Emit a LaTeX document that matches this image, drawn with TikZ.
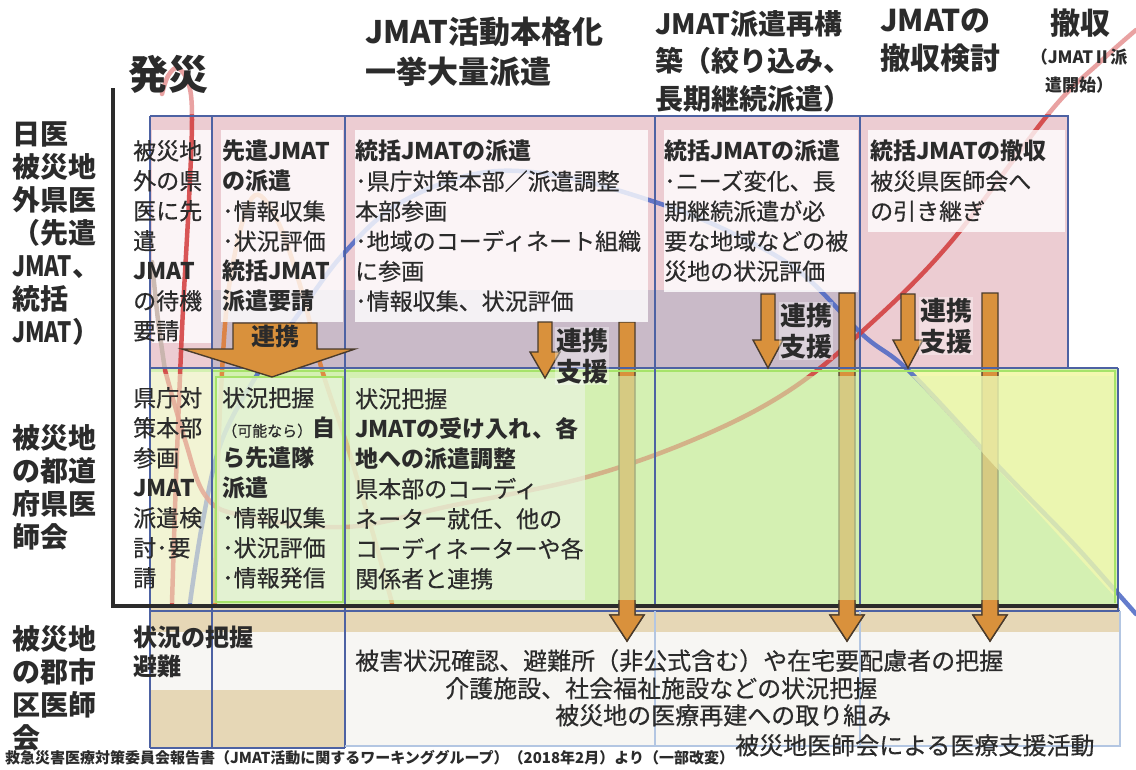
\documentclass[tikz,border=0pt]{standalone}
\usepackage{fontspec}
\usepackage{graphicx}
\setmainfont{Noto Sans CJK JP}[UprightFeatures={FakeBold=0.5}]
\definecolor{ink}{HTML}{2B2B2B}
\definecolor{pinkbg}{HTML}{ECCCD2}
\definecolor{purplebg}{HTML}{C9BAC8}
\definecolor{greenbg}{HTML}{D4F0B2}
\definecolor{palegreen}{HTML}{EAF4E0}
\definecolor{yellowbg}{HTML}{F3F8B0}
\definecolor{paleyellow}{HTML}{F2F4D4}
\definecolor{beige}{HTML}{E6D7B6}
\definecolor{offwhite}{HTML}{F7F6F3}
\definecolor{gridblue}{HTML}{4D62A3}
\definecolor{lightblue}{HTML}{B3C6E2}
\definecolor{arrowor}{HTML}{D9913C}
\definecolor{arrowedge}{HTML}{4A3B2C}
\definecolor{curveblue}{HTML}{4A66C4}
\definecolor{curvered}{HTML}{D23A3A}
\definecolor{curveor}{HTML}{E07A30}
\definecolor{curvegray}{HTML}{C4B2A8}
\definecolor{brightgreen}{HTML}{A6E36A}
\newcommand\fsz[2]{\fontsize{#1}{#2}\selectfont}
\newcommand\Jm{\scalebox{0.8}[1]{JMAT}}
\newcommand\longarr[2]{%
  \filldraw[arr] ({#1-8},#2) -- ({#1+8},#2) -- ({#1+8},615) -- ({#1+17},615) -- (#1,641) -- ({#1-17},615) -- ({#1-8},615) -- cycle;}
\newcommand\shortarr[4]{%
  \filldraw[arr] ({#1-7},#2) -- ({#1+7},#2) -- ({#1+7},#3) -- ({#1+15},#3) -- (#1,#4) -- ({#1-15},#3) -- ({#1-7},#3) -- cycle;}
\begin{document}
\begin{tikzpicture}[x=1pt,y=-1pt,
  txt/.style={anchor=north west,inner sep=0pt,align=left,text=ink,font=\fsz{23}{30}},
  hdr/.style={anchor=north west,inner sep=0pt,align=left,text=ink,font=\bfseries\fsz{31}{40}},
  side/.style={anchor=north west,inner sep=0pt,align=left,text=ink,font=\bfseries\fsz{28}{33}},
  tag/.style={anchor=north west,inner sep=1pt,align=left,text=ink,font=\bfseries\fsz{26}{31},fill=white,fill opacity=0.35,text opacity=1},
  gridline/.style={draw=gridblue,line width=2.2pt},
  lgridline/.style={draw=lightblue,line width=1.5pt},
  arr/.style={fill=arrowor,draw=arrowedge,line width=1.4pt,line join=miter},
  curve/.style={line width=4.5pt,line cap=round,opacity=0.85},
  wash/.style={opacity=0.6},
  tbox/.style={fill=white,opacity=0.8}
]
\useasboundingbox (0,0) rectangle (1136,769);
\fill[white] (0,0) rectangle (1136,769);

% ---------- backgrounds
\fill[pinkbg] (150,116) rectangle (1068,368);
\fill[purplebg] (212,290) rectangle (860,368);
\fill[greenbg] (150,368) rectangle (1118,605);
\fill[paleyellow] (150,372) rectangle (212,605);
\fill[yellowbg] (910,372) -- (1116,372) -- (1116,598) -- cycle;
\fill[beige] (150,608) rectangle (1120,632);
\fill[offwhite] (150,632) rectangle (345,690);
\fill[beige] (150,690) rectangle (345,748);
\fill[offwhite] (345,632) rectangle (1120,746);
\fill[white,opacity=0.8] (152,130) rectangle (212,343);

% ---------- curves
\draw[curve,curvegray] plot[smooth,tension=0.6] coordinates {(152,262) (158,320) (165,370)};
\draw[curve,curveblue] plot[smooth,tension=0.6] coordinates {(190,603) (203,520) (222,440) (260,370) (300,312) (345,252) (400,203) (480,173) (560,176) (655,202) (730,232) (800,272) (863,335) (910,372) (1000,468) (1070,540) (1113,588) (1136,614)};
\draw[curve,curvered] plot[smooth,tension=0.6] coordinates {(165,370) (185,440) (205,495) (240,515) (345,527) (450,506) (587,477) (700,437) (790,390) (867,327) (950,243) (1050,112) (1100,62) (1136,30)};
\draw[curve,curvered] plot[smooth,tension=0.6] coordinates {(172,603) (176,480) (182,330) (189,200) (192,120) (189,85) (178,68) (168,76) (162,94)};
\draw[curve,curveor] plot[smooth,tension=0.6] coordinates {(215,603) (217,500) (221,390) (230,280) (252,198) (276,218) (300,285) (322,370) (347,445) (372,530) (392,603)};
% lighter where the curves leave the frame
\fill[white,opacity=0.45] (116,0) rectangle (1136,114);

% ---------- long arrows (under the wash)
\longarr{627}{322}
\longarr{847}{293}
\longarr{990}{293}

% ---------- washes in the middle band
\fill[greenbg,wash] (212,376) rectangle (1116,603);
\fill[paleyellow,wash] (150,374) rectangle (212,603);
\fill[yellowbg,wash] (912,376) -- (1116,376) -- (1116,598) -- cycle;
\fill[palegreen,opacity=0.7] (216,377) rectangle (343,602);
\fill[palegreen,opacity=0.7] (350,378) rectangle (585,600);
\draw[brightgreen,line width=2pt] (216,377) rectangle (343,602);
\draw[brightgreen,line width=2.5pt] (212,371) -- (1115,371) -- (1115,603);

% ---------- white text boxes (top band)
\fill[tbox] (221,130) rectangle (343,322);
\fill[tbox] (355,130) rectangle (648,322);
\fill[tbox] (664,130) rectangle (858,292);
\fill[tbox] (868,130) rectangle (1065,232);

% ---------- grid
\draw[gridline] (150,116) -- (1068,116) -- (1068,368);
\draw[gridline] (150,368) -- (1118,368);
\foreach \x in {150,212,345} \draw[gridline] (\x,116) -- (\x,748);
\foreach \x in {655,860} \draw[gridline] (\x,116) -- (\x,608);
\draw[gridline] (150,611) -- (1120,611);
\draw[gridline] (150,748) -- (345,748);
\draw[gridline] (1118,368) -- (1118,611);
\draw[lgridline] (345,746) -- (1120,746) -- (1120,611);
\foreach \x in {655,860} \draw[lgridline] (\x,611) -- (\x,746);

% ---------- axis
\draw[line width=4pt,draw=ink] (113,88) -- (113,606) -- (1118,606);

% ---------- arrow feet over the axis
\begin{scope}
\clip (0,600) rectangle (1136,700);
\longarr{627}{322}
\longarr{847}{293}
\longarr{990}{293}
\end{scope}

% ---------- short arrows
\shortarr{545}{322}{352}{378}
\shortarr{768}{294}{340}{368}
\shortarr{908}{294}{340}{368}
\filldraw[arr] (233,323) -- (317,323) -- (317,349) -- (355,349) -- (272,377) -- (182,349) -- (233,349) -- cycle;
\node[anchor=center,inner sep=0pt,text=ink,font=\bfseries\fsz{24}{28}] (renkei0) at (275,336) {連携};

\node[tag] (renkei1) at (555,327) {連携\\支援};
\node[tag] (renkei2) at (779,302) {連携\\支援};
\node[tag] (renkei3) at (919,297) {連携\\支援};

% ---------- headers
\node[anchor=north west,inner sep=0pt,text=ink,font=\bfseries\fsz{40}{44}] (hassai) at (128,55) {発災};
\node[hdr] (h1) at (365,17) {JMAT活動本格化\\一挙大量派遣};
\node[hdr,font=\bfseries\fsz{28}{37.5}] (h2) at (655,10) {JMAT派遣再構\\築（絞り込み、\\長期継続派遣）};
\node[hdr,font=\bfseries\fsz{30}{38}] (h3) at (880,9) {JMATの\\撤収検討};
\node[hdr,font=\bfseries\fsz{30}{38}] (h4) at (1050,9) {撤収};
\node[anchor=north,inner sep=0pt,align=center,text=ink,font=\bfseries\fsz{17}{28}] (h5) at (1079,49) {（JMATⅡ派\\遣開始）};

% ---------- side labels
\node[side] (s1) at (12,122) {日医\\被災地\\外県医\\（先遣\\\Jm、\\統括\\\Jm）};
\node[side] (s2) at (12,424) {被災地\\の都道\\府県医\\師会};
\node[side] (s3) at (12,625) {被災地\\の郡市\\区医師\\会};

% ---------- top band texts
\node[txt] (t1) at (133,140) {被災地\\外の県\\医に先\\遣\\\textbf{JMAT}\\の待機\\要請};
\node[txt] (t2) at (222,140) {\textbf{先遣JMAT}\\\textbf{の派遣}\\･情報収集\\･状況評価\\\textbf{統括JMAT}\\\textbf{派遣要請}};
\node[txt] (t3) at (355,140) {\textbf{統括JMATの派遣}\\･県庁対策本部／派遣調整\\本部参画\\･地域のコーディネート組織\\に参画\\･情報収集、状況評価};
\node[txt] (t4) at (664,140) {\textbf{統括JMATの派遣}\\･ニーズ変化、長\\期継続派遣が必\\要な地域などの被\\災地の状況評価};
\node[txt] (t5) at (870,140) {\textbf{統括JMATの撤収}\\被災県医師会へ\\の引き継ぎ};

% ---------- middle band texts
\node[txt] (m1) at (133,387) {県庁対\\策本部\\参画\\\textbf{JMAT}\\派遣検\\討･要\\請};
\node[txt] (m2) at (222,387) {状況把握\\{\fsz{15}{30}（可能なら）}\textbf{自}\\\textbf{ら先遣隊}\\\textbf{派遣}\\･情報収集\\･状況評価\\･情報発信};
\node[txt] (m3) at (355,388) {状況把握\\\textbf{JMATの受け入れ、各}\\\textbf{地への派遣調整}\\県本部のコーディ\\ネーター就任、他の\\コーディネーターや各\\関係者と連携};

% ---------- bottom band texts
\node[txt,font=\bfseries\fsz{24}{29}] (b0) at (133,626) {状況の把握\\避難};
\node[txt,font=\fsz{24}{28}] (b1) at (355,649) {被害状況確認、避難所（非公式含む）や在宅要配慮者の把握};
\node[txt,font=\fsz{24}{28}] (b2) at (445,677) {介護施設、社会福祉施設などの状況把握};
\node[txt,font=\fsz{24}{28}] (b3) at (555,704) {被災地の医療再建への取り組み};
\node[txt,font=\fsz{24}{28}] (b4) at (735,734) {被災地医師会による医療支援活動};

% ---------- footnote
\node[anchor=north west,inner sep=0pt,text=ink,font=\bfseries\fsz{15}{18}] (foot) at (5,750) {救急災害医療対策委員会報告書（JMAT活動に関するワーキンググループ）（2018年2月）より（一部改変）};
\end{tikzpicture}
\end{document}
